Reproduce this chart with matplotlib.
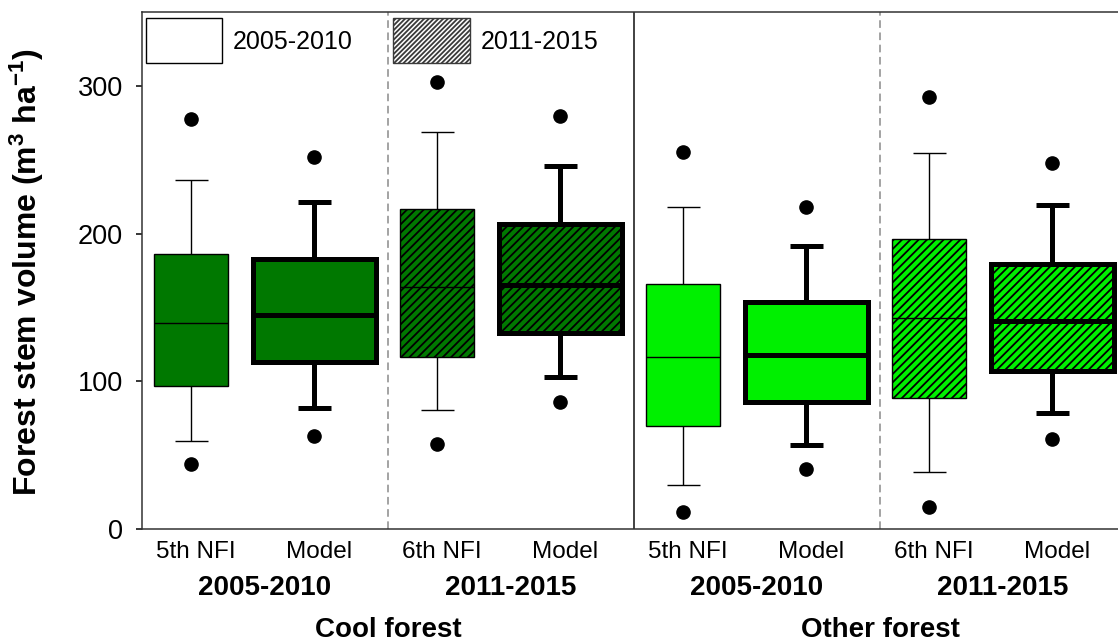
import matplotlib
matplotlib.use('Agg')
import matplotlib.pyplot as plt
from matplotlib.patches import Rectangle

plt.rcParams['font.family'] = ['Liberation Sans', 'DejaVu Sans']
plt.rcParams['mathtext.fontset'] = 'custom'
plt.rcParams['mathtext.rm'] = 'Liberation Sans'
plt.rcParams['mathtext.default'] = 'regular'
plt.rcParams['hatch.linewidth'] = 1.3

# stem volume summaries (m3/ha): 10/25/50/75/90th percentiles, 5th and 95th as dots
box_labels = ['5th NFI', 'Model', '6th NFI', 'Model',
              '5th NFI', 'Model', '6th NFI', 'Model']
whislo = [59.8, 82.2, 80.4, 102.9, 29.6, 56.7, 38.4, 78.3]
q1 = [97.1, 112.8, 116.7, 132.5, 70.0, 85.8, 88.9, 107.1]
med = [139.7, 144.9, 164.1, 165.2, 116.7, 117.8, 142.7, 141.1]
q3 = [186.2, 182.6, 216.5, 206.8, 165.9, 153.4, 196.2, 179.3]
whishi = [236.3, 221.2, 269.1, 245.8, 218.3, 191.6, 254.6, 219.6]
p05 = [43.8, 62.8, 57.8, 85.8, 11.3, 40.4, 15.1, 60.7]
p95 = [277.4, 251.5, 302.9, 279.9, 254.9, 217.8, 292.3, 248.1]

periods = ['2005-2010', '2011-2015', '2005-2010', '2011-2015']
forests = ['Cool forest', 'Other forest']

dark_green = '#007800'
light_green = '#00f000'

positions = list(range(1, 9))
is_model = [i % 2 == 1 for i in range(8)]
is_late = [(i // 2) % 2 == 1 for i in range(8)]
colors = [dark_green] * 4 + [light_green] * 4

stats = []
for i in range(8):
    stats.append(dict(med=med[i], q1=q1[i], q3=q3[i], whislo=whislo[i],
                      whishi=whishi[i], fliers=[p05[i], p95[i]]))

fig = plt.figure(figsize=(11.18, 6.42), dpi=100)
ax = fig.add_axes([142 / 1118, 1 - 529 / 642, 984 / 1118, 517 / 642])

widths = [1.0 if m else 0.6 for m in is_model]
art = ax.bxp(stats, positions=positions, widths=widths, capwidths=0.27,
             patch_artist=True, showfliers=True, manage_ticks=False)

for i in range(8):
    lw = 3.6 if is_model[i] else 1.0
    art['boxes'][i].set(facecolor=colors[i], edgecolor='black', linewidth=lw,
                        hatch='////' if is_late[i] else None,
                        joinstyle='miter')
    art['medians'][i].set(color='black', linewidth=lw, solid_capstyle='butt')
    for ln in art['whiskers'][2 * i:2 * i + 2] + art['caps'][2 * i:2 * i + 2]:
        ln.set(color='black', linewidth=lw, solid_capstyle='butt')
    art['fliers'][i].set(marker='o', markerfacecolor='black',
                         markeredgecolor='black', markersize=9.5)

# panel separators
ax.axvline(2.6, color='#8a8a8a', lw=1.1, ls=(0, (5, 3)), zorder=1)
ax.axvline(6.6, color='#8a8a8a', lw=1.1, ls=(0, (5, 3)), zorder=1)
ax.axvline(4.6, color='#333333', lw=1.3, zorder=1)

# period key
ax.add_patch(Rectangle((0.634, 315.6), 0.618, 30.5, facecolor='white',
                       edgecolor='black', lw=1.0, zorder=3))
ax.text(1.34, 330, periods[0], fontsize=18, va='center', ha='left')
ax.add_patch(Rectangle((2.642, 315.6), 0.626, 30.5, facecolor='white',
                       edgecolor='#3a3a3a', hatch='///////', lw=1.0, zorder=3))
ax.text(3.35, 330, periods[1], fontsize=18, va='center', ha='left')

ax.set_xlim(0.6, 8.6)
ax.set_ylim(0, 350)
ax.set_yticks([0, 100, 200, 300])
ax.tick_params(axis='y', labelsize=19.5, direction='out', length=4.3,
               width=1.1, pad=9.5)
ax.set_xticks([])
for side in ['left', 'bottom', 'top']:
    ax.spines[side].set_linewidth(1.1)
    ax.spines[side].set_color('#333333')
ax.spines['right'].set_visible(False)

tr = ax.get_xaxis_transform()
for i, lab in enumerate(box_labels):
    ax.text(positions[i] + 0.04, -0.056, lab, transform=tr, fontsize=17.5,
            ha='center', va='baseline')
for j, per in enumerate(periods):
    ax.text(1.6 + 2 * j, -0.128, per, transform=tr, fontsize=20,
            fontweight='bold', ha='center', va='baseline')
for j, fr in enumerate(forests):
    ax.text(2.6 + 4 * j, -0.209, fr, transform=tr, fontsize=20,
            fontweight='bold', ha='center', va='baseline')

fig.text(27 / 1118, 1 - 272 / 642, 'Forest stem volume (m$^3$ ha$^{-1}$)',
         rotation=90, fontsize=23, fontweight='bold', ha='center', va='center')

fig.savefig('out.png', dpi=100)
